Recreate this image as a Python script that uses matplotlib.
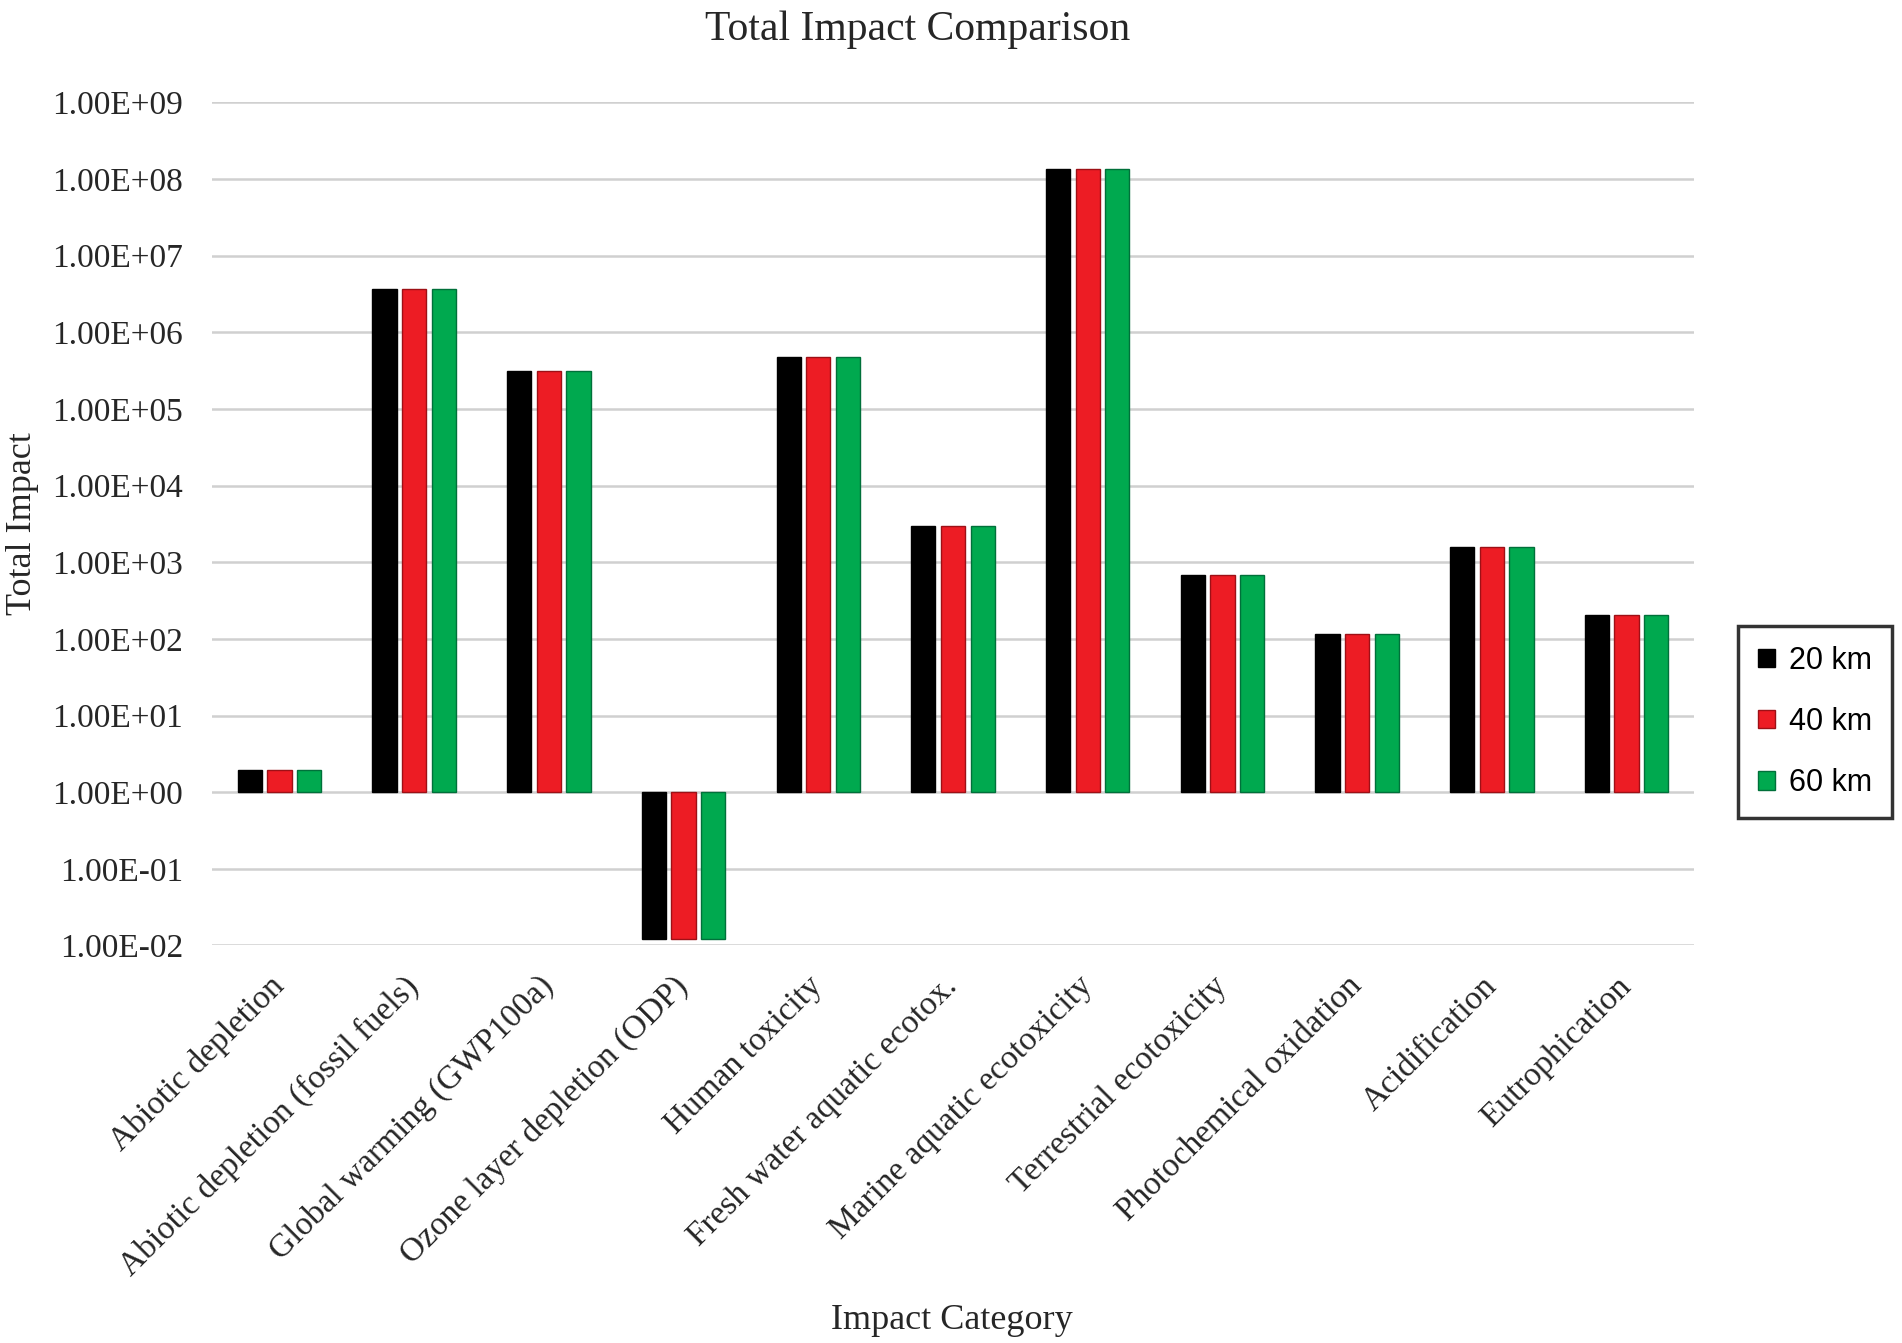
import numpy as np
import matplotlib
matplotlib.use("Agg")
import matplotlib.pyplot as plt
from matplotlib.ticker import FixedLocator, FuncFormatter

categories = [
    "Abiotic depletion",
    "Abiotic depletion (fossil fuels)",
    "Global warming (GWP100a)",
    "Ozone layer depletion (ODP)",
    "Human toxicity",
    "Fresh water aquatic ecotox.",
    "Marine aquatic ecotoxicity",
    "Terrestrial ecotoxicity",
    "Photochemical oxidation",
    "Acidification",
    "Eutrophication",
]

# values (the three distances look identical)
impact_20km = [1.96, 3.67e6, 3.13e5, 0.0123, 4.72e5, 2.98e3, 1.35e8, 6.78e2, 1.15e2, 1.57e3, 2.05e2]
impact_40km = [1.96, 3.67e6, 3.13e5, 0.0123, 4.72e5, 2.98e3, 1.35e8, 6.78e2, 1.15e2, 1.57e3, 2.05e2]
impact_60km = [1.96, 3.67e6, 3.13e5, 0.0123, 4.72e5, 2.98e3, 1.35e8, 6.78e2, 1.15e2, 1.57e3, 2.05e2]

series_names = ["20 km", "40 km", "60 km"]
y_ticks = [10.0 ** k for k in range(-2, 10)]

serif = ["Liberation Serif", "DejaVu Serif"]
sans = ["Liberation Sans", "DejaVu Sans"]

fig = plt.figure(figsize=(19.02, 13.43), dpi=100)
ax = fig.add_axes([0.1115, 0.296, 0.7791, 0.6278])

x = np.arange(len(categories))
colors = ["#000000", "#ED1C24", "#00A94F"]
edges = ["#000000", "#9E1016", "#00703A"]
bw = 0.18
step = 0.22

# Excel log axis crosses at 1, so bars grow from 1 in either direction
for i, vals in enumerate([impact_20km, impact_40km, impact_60km]):
    vals = np.array(vals)
    ax.bar(x + (i - 1) * step, vals - 1, bottom=1, width=bw,
           color=colors[i], edgecolor=edges[i], linewidth=1.0,
           label=series_names[i], zorder=3)

ax.set_yscale("log")
ax.set_ylim(1e-2, 1e9)
ax.set_xlim(-0.5, len(categories) - 0.5)
ax.yaxis.set_major_locator(FixedLocator(y_ticks))
ax.yaxis.set_minor_locator(FixedLocator([]))
ax.yaxis.set_major_formatter(FuncFormatter(lambda v, p: "%.2E" % v))
ax.grid(axis="y", color="#D0D0D0", linewidth=1.8, zorder=0)
ax.set_axisbelow(True)
for s in ax.spines.values():
    s.set_visible(False)
ax.tick_params(axis="both", length=0)
ax.tick_params(axis="y", pad=21)

for lab in ax.get_yticklabels():
    lab.set_family(serif)
    lab.set_fontsize(24)
    lab.set_color("#262626")

ax.set_xticks(x)
ax.set_xticklabels(categories, rotation=45, ha="right", va="center",
                   rotation_mode="anchor", family=serif, fontsize=24,
                   color="#262626")
ax.tick_params(axis="x", pad=26)

fig.text(0.4826, 0.978, "Total Impact Comparison", ha="center", va="center",
         family=serif, fontsize=30, color="#262626")
fig.text(0.5005, 0.0171, "Impact Category", ha="center", va="center",
         family=serif, fontsize=26, color="#262626")
fig.text(0.012, 0.61, "Total Impact", ha="center", va="center", rotation=90,
         family=serif, fontsize=26, color="#262626")

leg = fig.legend(loc="center", bbox_to_anchor=(0.9543, 0.4624),
                 prop={"family": sans, "size": 22},
                 handlelength=0.55, handleheight=0.55, handletextpad=0.45,
                 labelspacing=1.03, borderpad=0.65, fancybox=False,
                 frameon=True)
leg.get_frame().set_edgecolor("#000000")
leg.get_frame().set_linewidth(2.5)

fig.savefig("out.png", dpi=100, facecolor="white")
